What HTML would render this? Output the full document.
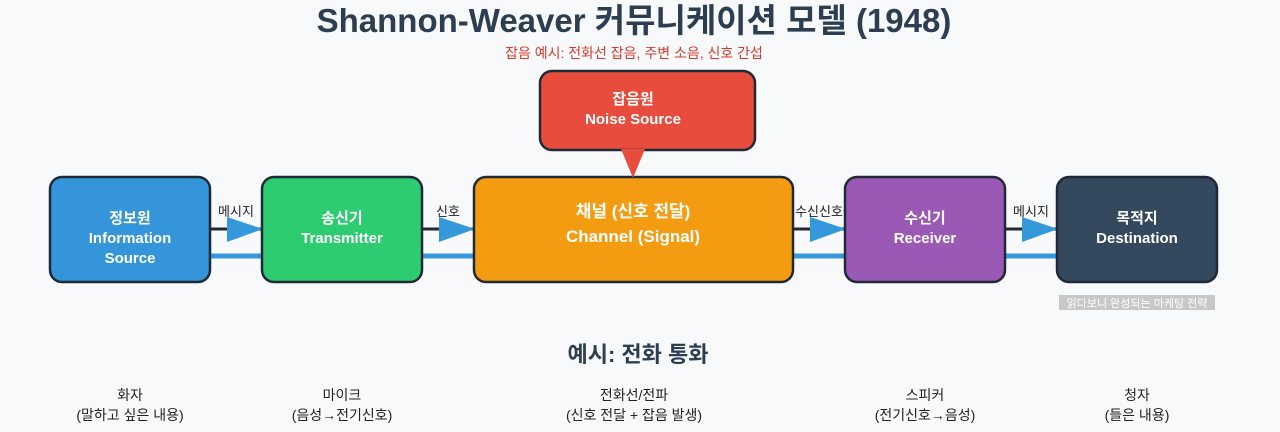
<!DOCTYPE html>
<html><head><meta charset="utf-8"><style>
html,body{margin:0;padding:0;background:#f8f9fb;}
svg{display:block;font-family:"Liberation Sans","Noto Sans CJK KR",sans-serif;}
</style></head><body>
<svg width="1280" height="432" viewBox="0 0 1280 432">
<rect width="1280" height="432" fill="#f8f9fb"/>
<text x="634" y="32" text-anchor="middle" font-size="33" font-weight="bold" fill="#2c3e50">Shannon-Weaver 커뮤니케이션 모델 (1948)</text>
<text x="634" y="58" text-anchor="middle" font-size="14" fill="#d63a2a">잡음 예시: 전화선 잡음, 주변 소음, 신호 간섭</text>
<g stroke="#1f2a36" stroke-width="3">
<line x1="210" y1="229" x2="262" y2="229"/><line x1="422" y1="229" x2="474" y2="229"/>
<line x1="793" y1="229" x2="845" y2="229"/><line x1="1005" y1="229" x2="1057" y2="229"/>
</g>
<g stroke="#3498db" stroke-width="5">
<line x1="210" y1="256" x2="262" y2="256"/><line x1="422" y1="256" x2="474" y2="256"/>
<line x1="793" y1="256" x2="845" y2="256"/><line x1="1005" y1="256" x2="1057" y2="256"/>
</g>
<g fill="#3498db">
<polygon points="227,217 263,229 227,242"/><polygon points="439,217 475,229 439,242"/>
<polygon points="810,217 846,229 810,242"/><polygon points="1022,217 1058,229 1022,242"/>
</g>
<g font-size="13" fill="#222" text-anchor="middle">
<text x="236" y="216">메시지</text><text x="448" y="216">신호</text>
<text x="819" y="216">수신신호</text><text x="1031" y="216">메시지</text>
</g>
<g stroke="#1f2a36" stroke-width="2.5">
<rect x="50" y="177" width="160" height="105" rx="12" fill="#3595da"/>
<rect x="262" y="177" width="160" height="105" rx="12" fill="#2ecc71"/>
<rect x="474" y="177" width="319" height="105" rx="12" fill="#f39c12"/>
<rect x="845" y="177" width="160" height="105" rx="12" fill="#9b59b6"/>
<rect x="1057" y="177" width="160" height="105" rx="12" fill="#34495e"/>
<rect x="540" y="71" width="215" height="79" rx="12" fill="#e74c3c"/>
</g>
<polygon points="621,149 645,149 633,178" fill="#e74c3c"/>
<g fill="#fff" font-weight="bold" text-anchor="middle" font-size="15">
<text x="130" y="223">정보원</text><text x="130" y="243">Information</text><text x="130" y="263">Source</text>
<text x="342" y="223">송신기</text><text x="342" y="243">Transmitter</text>
<text x="925" y="223">수신기</text><text x="925" y="243">Receiver</text>
<text x="1137" y="223">목적지</text><text x="1137" y="243">Destination</text>
<text x="633" y="104">잡음원</text><text x="633" y="124">Noise Source</text>
<text x="633" y="217" font-size="17">채널 (신호 전달)</text><text x="633" y="242" font-size="17">Channel (Signal)</text>
</g>
<rect x="1059" y="295" width="156" height="15" fill="#c8c8c8"/>
<text x="1137" y="307" text-anchor="middle" font-size="11" fill="#fff">읽다보니 완성되는 마케팅 전략</text>
<text x="638" y="362" text-anchor="middle" font-size="22" font-weight="bold" fill="#2c3e50">예시: 전화 통화</text>
<g font-size="14" fill="#222" text-anchor="middle">
<text x="130" y="400">화자</text><text x="130" y="420">(말하고 싶은 내용)</text>
<text x="342" y="400">마이크</text><text x="342" y="420">(음성→전기신호)</text>
<text x="634" y="400">전화선/전파</text><text x="634" y="420">(신호 전달 + 잡음 발생)</text>
<text x="925" y="400">스피커</text><text x="925" y="420">(전기신호→음성)</text>
<text x="1137" y="400">청자</text><text x="1137" y="420">(들은 내용)</text>
</g>
</svg>
</body></html>
